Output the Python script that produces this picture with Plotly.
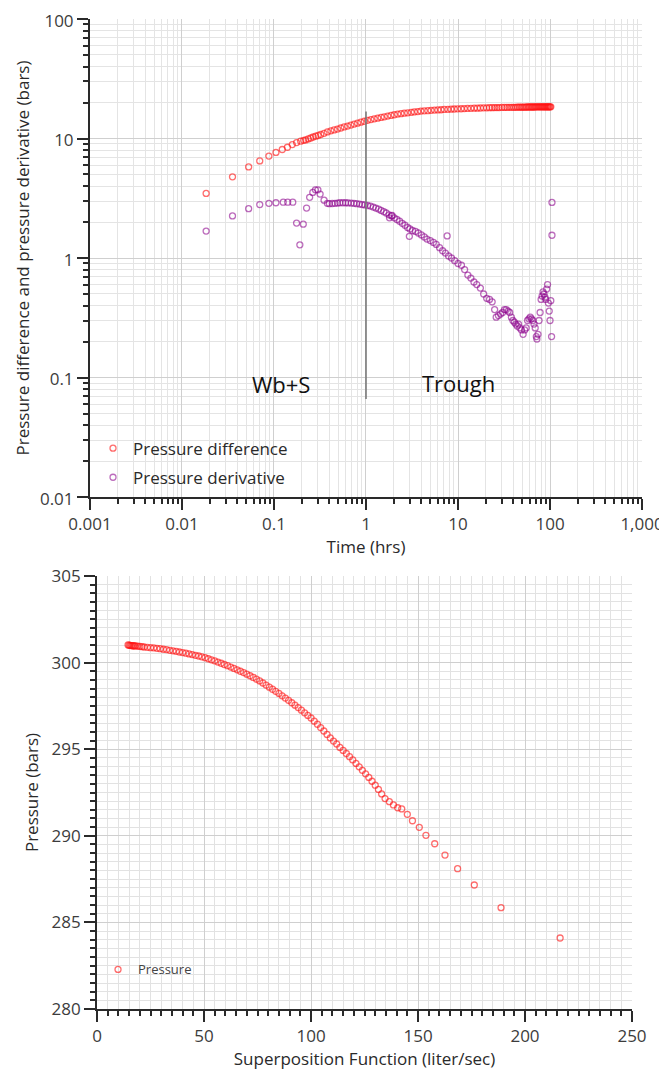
import plotly.graph_objects as go

# ---------------- Top chart data (log-log diagnostic plot) ----------------
dp_time = [0.0183, 0.0354, 0.053, 0.070, 0.088, 0.105, 0.123, 0.140, 0.158, 0.176,
           0.195, 0.21, 0.221, 0.236, 0.251, 0.267, 0.284, 0.302, 0.322, 0.35,
           0.381, 0.415, 0.451, 0.49, 0.532, 0.58, 0.63, 0.685, 0.745, 0.81,
           0.88, 0.96, 1.04, 1.13, 1.23, 1.34, 1.46, 1.58, 1.72, 1.87,
           2.03, 2.21, 2.4, 2.61, 2.84, 3.1, 3.35, 3.65, 3.95, 4.3,
           4.7, 5.1, 5.55, 6.04, 6.55, 7.1, 7.76, 8.4, 9.1, 9.9,
           10.8, 11.7, 12.7, 13.8, 15.0, 16.2, 17.5, 19, 20.5, 22,
           23.5, 25, 26.5, 28, 30, 32, 34, 36, 38, 40,
           42, 44, 46, 48, 50, 52, 54, 56, 58, 60,
           62, 64, 66, 68, 70, 72, 74, 76, 78, 80,
           82, 84, 86, 88, 90, 92, 94, 96, 98, 100, 102]
dp_value = [3.47, 4.78, 5.78, 6.49, 7.13, 7.65, 8.09, 8.45, 8.9, 9.25,
            9.5, 9.65, 9.74, 9.92, 10.1, 10.3, 10.45, 10.6, 10.8, 11.05,
            11.35, 11.6, 11.8, 12.0, 12.25, 12.5, 12.7, 12.95, 13.2, 13.45,
            13.7, 13.95, 14.2, 14.4, 14.6, 14.8, 15.0, 15.2, 15.4, 15.6,
            15.8, 16.0, 16.15, 16.3, 16.4, 16.55, 16.7, 16.8, 16.95, 17.05,
            17.1, 17.2, 17.3, 17.35, 17.4, 17.5, 17.55, 17.6, 17.65, 17.7,
            17.75, 17.8, 17.85, 17.9, 17.95, 17.95, 18.0, 18.05, 18.05, 18.1,
            18.1, 18.15, 18.15, 18.15, 18.2, 18.2, 18.2, 18.25, 18.25, 18.25,
            18.25, 18.3, 18.3, 18.3, 18.3, 18.3, 18.3, 18.35, 18.35, 18.35,
            18.35, 18.35, 18.35, 18.35, 18.4, 18.4, 18.4, 18.4, 18.4, 18.4,
            18.4, 18.4, 18.4, 18.4, 18.4, 18.4, 18.4, 18.4, 18.4, 18.4, 18.4]

der_time = [0.0183, 0.0354, 0.053, 0.070, 0.088, 0.105, 0.126, 0.141, 0.160, 0.176,
            0.191, 0.208, 0.226, 0.244, 0.264, 0.282, 0.30, 0.317, 0.35, 0.38,
            0.40, 0.43, 0.46, 0.49, 0.52, 0.56, 0.60, 0.64, 0.69, 0.74,
            0.79, 0.85, 0.91, 0.97, 1.04, 1.12, 1.2, 1.28, 1.37, 1.46,
            1.56, 1.66, 1.78, 1.8, 1.9, 1.92, 2.03, 2.17, 2.32, 2.48,
            2.65, 2.83, 2.96, 3.0, 3.2, 3.45, 3.7, 4.0, 4.3, 4.6,
            5.0, 5.4, 5.8, 6.3, 6.8, 7.3, 7.62, 7.9, 8.5, 9.2,
            10.0, 10.9, 11.8, 12.8, 13.8, 14.9, 16.0, 17.5, 19.0, 20.5,
            22.0, 23.5, 25.0, 26.0, 27.5, 29.0, 30.5, 32.0, 33.5, 35.0,
            36.5, 38.0, 39.5, 41.0, 42.5, 44.0, 45.5, 47.0, 49.0, 51.0,
            53.0, 55.0, 57.0, 59.0, 61.0, 63.0, 65.0, 67.0, 69.0, 71.0,
            72.0, 74.0, 76.0, 78.0, 80.0, 82.0, 84.0, 86.0, 88.0, 90.0,
            92.0, 94.0, 96.0, 98.0, 100.0, 102.0, 104.0, 105.0, 105.0]
der_value = [1.68, 2.25, 2.59, 2.80, 2.87, 2.90, 2.93, 2.93, 2.93, 1.96,
             1.29, 1.92, 2.62, 3.22, 3.54, 3.72, 3.72, 3.43, 3.05, 2.87,
             2.85, 2.86, 2.87, 2.88, 2.90, 2.90, 2.90, 2.89, 2.88, 2.87,
             2.85, 2.83, 2.80, 2.78, 2.75, 2.72, 2.67, 2.62, 2.57, 2.50,
             2.44, 2.38, 2.30, 2.17, 2.25, 2.27, 2.17, 2.10, 2.03, 1.95,
             1.88, 1.80, 1.52, 1.75, 1.70, 1.67, 1.62, 1.56, 1.50, 1.44,
             1.40, 1.35, 1.30, 1.22, 1.15, 1.10, 1.53, 1.04, 1.00, 0.95,
             0.90, 0.87, 0.80, 0.72, 0.68, 0.63, 0.60, 0.56, 0.50, 0.46,
             0.45, 0.43, 0.37, 0.32, 0.33, 0.34, 0.35, 0.37, 0.37, 0.36,
             0.35, 0.32, 0.30, 0.29, 0.28, 0.27, 0.28, 0.26, 0.25, 0.23,
             0.25, 0.26, 0.30, 0.31, 0.32, 0.31, 0.30, 0.28, 0.26, 0.22,
             0.21, 0.23, 0.30, 0.35, 0.45, 0.48, 0.52, 0.50, 0.47, 0.45,
             0.55, 0.60, 0.42, 0.36, 0.30, 0.44, 0.22, 1.55, 2.92]

divider_time = [1, 1]
divider_range = [0.066, 16.8]

top_xticks = [0.001, 0.01, 0.1, 1, 10, 100, 1000]
top_xticktext = ["0.001", "0.01", "0.1", "1", "10", "100", "1,000"]
top_yticks = [0.01, 0.1, 1, 10, 100]
top_yticktext = ["0.01", "0.1", "1", "10", "100"]

# ---------------- Bottom chart data (superposition plot) ----------------
sup_x = [14.5, 15.0, 15.5, 16.0, 16.5, 17.0, 17.5, 18.0, 19.0, 20.0,
         21.0, 22.0, 23.5, 25.0, 26.5, 28.0, 29.5, 31.0, 32.5, 34.0,
         35.5, 37.0, 38.5, 40.0, 41.5, 43.0, 44.5, 46.0, 47.5, 49.0,
         50.5, 52.0, 53.5, 55.0, 56.5, 58.0, 59.5, 61.0, 62.5, 64.0,
         65.5, 67.0, 68.5, 70.0, 71.5, 73.0, 74.5, 76.0, 77.5, 79.0,
         80.5, 82.0, 83.5, 85.0, 86.5, 88.0, 89.5, 91.0, 92.5, 94.0,
         95.5, 97.0, 98.5, 100.0, 101.5, 103.0, 104.5, 106.0, 107.5, 109.0,
         110.5, 112.0, 113.5, 115.0, 116.5, 118.0, 119.5, 121.0, 122.5, 124.0,
         125.5, 127.0, 128.5, 130.0, 131.5, 133.0, 134.6, 136.6, 138.5, 140.5,
         142.4, 145.0, 147.4, 150.6, 153.7, 157.8, 162.6, 168.5, 176.3, 188.8,
         216.4]
sup_p = [301.02, 301.0, 300.99, 300.98, 300.97, 300.97, 300.96, 300.96, 300.95, 300.93,
         300.92, 300.9, 300.88, 300.86, 300.85, 300.82, 300.8, 300.77, 300.75, 300.71,
         300.68, 300.65, 300.61, 300.58, 300.54, 300.5, 300.46, 300.42, 300.38, 300.33,
         300.28, 300.22, 300.16, 300.1, 300.03, 299.96, 299.89, 299.82, 299.74, 299.66,
         299.58, 299.5, 299.42, 299.33, 299.24, 299.14, 299.04, 298.94, 298.82, 298.7,
         298.58, 298.46, 298.34, 298.22, 298.08, 297.95, 297.82, 297.68, 297.54, 297.4,
         297.25, 297.1, 296.95, 296.8, 296.62, 296.44, 296.25, 296.05, 295.85, 295.65,
         295.47, 295.3, 295.1, 294.93, 294.75, 294.57, 294.38, 294.18, 293.98, 293.78,
         293.58, 293.37, 293.15, 292.92, 292.68, 292.42, 292.15, 291.97, 291.78, 291.62,
         291.55, 291.24, 290.87, 290.49, 290.03, 289.54, 288.89, 288.1, 287.16, 285.85,
         284.1]

FONT = "Open Sans"
TICKCOL = "#3c3c3c"
RED = "rgba(255,20,20,0.62)"
PURPLE = "rgba(140,0,140,0.58)"

fig = go.Figure()

fig.add_trace(go.Scatter(
    x=dp_time, y=dp_value, mode="markers", name="Pressure difference",
    marker=dict(symbol="circle-open", size=6, color=RED, line=dict(width=1.3)),
    xaxis="x", yaxis="y", legend="legend", legendgroup="a"))
fig.add_trace(go.Scatter(
    x=der_time, y=der_value, mode="markers", name="Pressure derivative",
    marker=dict(symbol="circle-open", size=6, color=PURPLE, line=dict(width=1.3)),
    xaxis="x", yaxis="y", legend="legend", legendgroup="b"))
fig.add_trace(go.Scatter(
    x=divider_time, y=divider_range, mode="lines", showlegend=False,
    line=dict(color="#7a7a7a", width=1.6), xaxis="x", yaxis="y", hoverinfo="skip"))
fig.add_trace(go.Scatter(
    x=sup_x, y=sup_p, mode="markers", name="Pressure",
    marker=dict(symbol="circle-open", size=6, color=RED, line=dict(width=1.3)),
    xaxis="x2", yaxis="y2", legend="legend2"))

minor_log_x = [m * 10 ** e for e in range(-3, 3) for m in range(2, 10)]
minor_log_y = [m * 10 ** e for e in range(-2, 2) for m in range(2, 10)]

axis_common = dict(showline=True, linecolor="#2a2a2a", linewidth=2, ticks="outside",
                   tickwidth=2, tickcolor="#2a2a2a", ticklen=11, zeroline=False,
                   automargin=False, ticklabeloverflow="allow",
                   tickfont=dict(family=FONT, size=17, color=TICKCOL),
                   title_font=dict(family=FONT, size=17, color="#2a2a2a"),
                   showgrid=True, gridcolor="#cfcfcf", gridwidth=1, mirror=False)

# The page body adds an 8 px offset, so the figure is 8 px smaller each way.
fig.update_layout(
    width=659, height=1068,
    margin=dict(l=0, r=0, t=0, b=0),
    paper_bgcolor="white", plot_bgcolor="white",
    font=dict(family=FONT, color="#2a2a2a"),
    xaxis=dict(axis_common, type="log", range=[-3, 3], domain=[0.1244, 0.9621], anchor="y",
               tickmode="array", tickvals=top_xticks, ticktext=top_xticktext,
               minor=dict(tickmode="array", tickvals=minor_log_x, ticks="outside", ticklen=5,
                          tickwidth=1.5, tickcolor="#2a2a2a", showgrid=True, gridcolor="#e4e4e4"),
               title=dict(text="Time (hrs)", standoff=4)),
    yaxis=dict(axis_common, type="log", range=[-2, 2], domain=[0.5421, 0.9897], anchor="x",
               tickmode="array", tickvals=top_yticks, ticktext=top_yticktext,
               ticklabelshift=2,
               minor=dict(tickmode="array", tickvals=minor_log_y, ticks="outside", ticklen=5,
                          tickwidth=1.5, tickcolor="#2a2a2a", showgrid=True, gridcolor="#e4e4e4"),
               title=dict(text="Pressure difference and pressure derivative (bars)", standoff=6)),
    xaxis2=dict(axis_common, range=[0, 250], domain=[0.1351, 0.9469], anchor="y2",
                dtick=50, tick0=0,
                minor=dict(dtick=5, ticks="outside", ticklen=5, tickwidth=1.5,
                           tickcolor="#2a2a2a", showgrid=True, gridcolor="#e2e2e2"),
                title=dict(text="Superposition Function (liter/sec)", standoff=2)),
    yaxis2=dict(axis_common, range=[280, 305], domain=[0.0627, 0.4682], anchor="x2",
                dtick=5, tick0=280,
                minor=dict(dtick=0.5, ticks="outside", ticklen=5, tickwidth=1.5,
                           tickcolor="#2a2a2a", showgrid=True, gridcolor="#e2e2e2"),
                title=dict(text="Pressure (bars)", standoff=8)),
    legend=dict(x=0.129, y=0.6043, xanchor="left", yanchor="top", bgcolor="rgba(0,0,0,0)",
                font=dict(family=FONT, size=17, color="#2a2a2a"), traceorder="grouped",
                tracegroupgap=4, itemwidth=30),
    legend2=dict(x=0.1366, y=0.1138, xanchor="left", yanchor="top", bgcolor="rgba(0,0,0,0)",
                 font=dict(family=FONT, size=13, color="#444444")),
    annotations=[
        dict(text="Wb+S", x=-0.923, y=-1.051, xref="x", yref="y", showarrow=False,
             font=dict(family=FONT, size=22, color="#111111")),
        dict(text="Trough", x=1.008, y=-1.043, xref="x", yref="y", showarrow=False,
             font=dict(family=FONT, size=22, color="#111111")),
    ],
)

fig.write_html("out.html")
